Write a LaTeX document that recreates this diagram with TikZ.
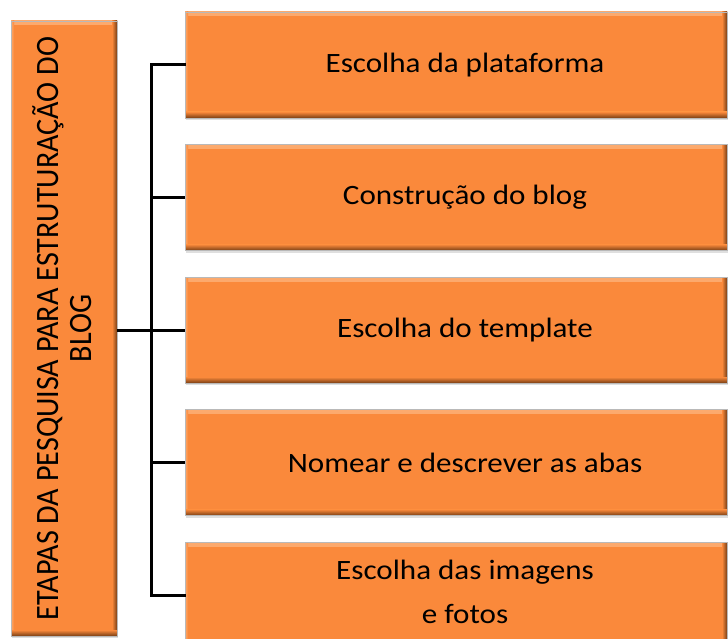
\documentclass[tikz,border=0pt]{standalone}
\usepackage{fontspec}
\newfontfamily\cf[FakeStretch=1.11]{Carlito}
\newfontfamily\cfl[FakeStretch=0.925]{Carlito}
\usetikzlibrary{shadows}
\definecolor{ofill}{RGB}{250,137,59}
\definecolor{olight}{RGB}{252,170,110}
\definecolor{odark}{RGB}{120,62,20}
\tikzset{
  obox/.style={rectangle, fill=ofill, draw=gray!55, line width=0.6pt, inner sep=0pt,
    drop shadow={shadow xshift=1pt, shadow yshift=-2pt, opacity=0.25},
    path picture={
      \shade[top color=olight, bottom color=ofill]
        (path picture bounding box.north west) rectangle ([yshift=-4pt]path picture bounding box.north east);
      \shade[left color=olight, right color=ofill]
        (path picture bounding box.south west) rectangle ([xshift=3pt]path picture bounding box.north west);
      \shade[left color=ofill, right color=odark]
        ([xshift=-5pt]path picture bounding box.south east) rectangle (path picture bounding box.north east);
      \shade[top color=ofill, bottom color=odark]
        ([yshift=6pt]path picture bounding box.south west) rectangle (path picture bounding box.south east);
    }},
  rbox/.style={obox, minimum width=542pt, minimum height=106pt},
  rtext/.style={text=black, align=center, inner sep=0pt, font=\cf\fontsize{28}{44}\selectfont},
  conn/.style={draw=black, line width=3pt}
}
\begin{document}
\begin{tikzpicture}[x=1pt,y=-1pt]
\useasboundingbox (0,0) rectangle (728,639);
\node[obox, minimum width=106pt, minimum height=615pt] (lbox) at (64,328.5) {};
\node[rotate=90, align=center, text=black, inner sep=0pt, font=\cfl\fontsize{32.6}{33}\selectfont] (ltext) at ([xshift=-2pt]lbox.center)
  {ETAPAS DA PESQUISA PARA ESTRUTURAÇÃO DO\\BLOG};
\node[rbox] (b1) at (456,65) {};
\node[rbox] (b2) at (456,197.5) {};
\node[rbox] (b3) at (456,330) {};
\node[rbox] (b4) at (456,462.5) {};
\node[rbox] (b5) at (456,595) {};
\node[rtext] (t1) at ([xshift=9pt]b1.center) {Escolha da plataforma};
\node[rtext] (t2) at ([xshift=9pt]b2.center) {Construção do blog};
\node[rtext] (t3) at ([xshift=9pt]b3.center) {Escolha do template};
\node[rtext] (t4) at ([xshift=9pt]b4.center) {Nomear e descrever as abas};
\node[rtext] (t5) at ([xshift=9pt,yshift=3pt]b5.center) {Escolha das imagens\\e fotos};
\coordinate (bt) at ([xshift=-33pt]b1.west);
\coordinate (bb) at ([xshift=-33pt]b5.west);
\draw[conn, line cap=rect] (b1.west) -- (bt) -- (bb) -- (b5.west);
\draw[conn] (b2.west) -- (b2.west -| bt);
\draw[conn] (b4.west) -- (b4.west -| bt);
\draw[conn] (lbox.east |- b3.west) -- (b3.west);
\end{tikzpicture}
\end{document}
